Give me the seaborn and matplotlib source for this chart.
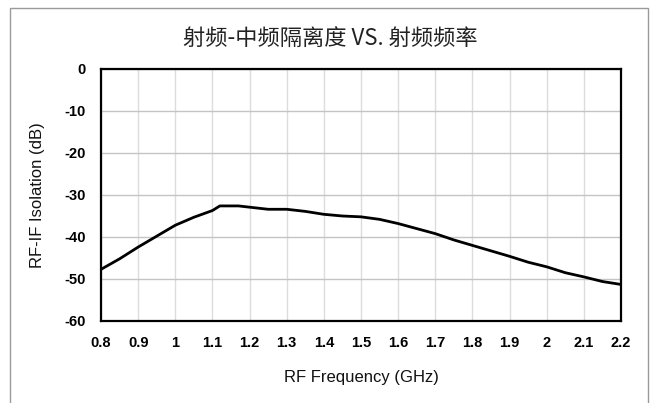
import matplotlib
matplotlib.use("Agg")
import matplotlib.pyplot as plt
import matplotlib.patches as mpatches
import seaborn as sns
import pandas as pd

# values
freq_ghz = [0.80, 0.85, 0.90, 0.95, 1.00, 1.05, 1.10, 1.12, 1.17, 1.20, 1.25,
            1.30, 1.35, 1.40, 1.45, 1.50, 1.55, 1.60, 1.65, 1.70, 1.75,
            1.80, 1.85, 1.90, 1.95, 2.00, 2.05, 2.10, 2.15, 2.20]
isolation_db = [-47.7, -45.2, -42.4, -39.8, -37.2, -35.3, -33.7, -32.6, -32.6, -32.9, -33.4,
                -33.4, -33.9, -34.6, -35.0, -35.2, -35.8, -36.8, -38.0, -39.2, -40.7,
                -42.0, -43.3, -44.6, -46.0, -47.1, -48.5, -49.5, -50.6, -51.3]
x_ticks = [0.8, 0.9, 1.0, 1.1, 1.2, 1.3, 1.4, 1.5, 1.6, 1.7, 1.8, 1.9, 2.0, 2.1, 2.2]
x_tick_labels = ["0.8", "0.9", "1", "1.1", "1.2", "1.3", "1.4", "1.5", "1.6", "1.7",
                 "1.8", "1.9", "2", "2.1", "2.2"]
y_ticks = [0, -10, -20, -30, -40, -50, -60]

title = "射频-中频隔离度 VS. 射频频率"
x_label = "RF Frequency (GHz)"
y_label = "RF-IF Isolation (dB)"

sns.set_theme(style="white")
plt.rcParams['font.family'] = ['Liberation Sans', 'DejaVu Sans']

df = pd.DataFrame({'freq': freq_ghz, 'iso': isolation_db})

fig = plt.figure(figsize=(6.54, 4.03), dpi=100)
ax = fig.add_axes([101 / 654, 1 - 321 / 403, 520 / 654, 252 / 403])

sns.lineplot(data=df, x='freq', y='iso', ax=ax, color='black', linewidth=2.0)

ax.set_xlim(0.8, 2.2)
ax.set_ylim(-60, 0)
ax.set_xticks(x_ticks)
ax.set_xticklabels(x_tick_labels)
ax.set_yticks(y_ticks)
ax.set_yticklabels([str(v) for v in y_ticks])

for lbl in ax.get_xticklabels() + ax.get_yticklabels():
    lbl.set_fontweight('bold')
    lbl.set_fontsize(10.5)
    lbl.set_family(['Liberation Sans Narrow', 'Liberation Sans'])
ax.tick_params(axis='x', length=0, pad=11, colors='black')
ax.tick_params(axis='y', length=0, pad=11, colors='black')

ax.grid(True, axis='x', color='#dcdcdc', linewidth=1.0)
ax.grid(True, axis='y', color='#c4c4c4', linewidth=1.0)
ax.set_axisbelow(True)
for sp in ax.spines.values():
    sp.set_color('black')
    sp.set_linewidth(1.6)

ax.set_xlabel(x_label, fontsize=12, labelpad=14, color='#111111')
ax.set_ylabel(y_label, fontsize=12, labelpad=14, color='#111111')
fig.text(330 / 654, 1 - 38 / 403, title, ha='center', va='center', fontsize=16,
         family=['Noto Sans CJK SC', 'DejaVu Sans'], color='#222222')

# outer chart frame
fig.patches.append(mpatches.Rectangle((10 / 654, -0.05), 638 / 654, 1.05 - 8 / 403,
                                      transform=fig.transFigure, fill=False,
                                      edgecolor='#9a9a9a', linewidth=1.0))

fig.savefig("out.png", dpi=100)
